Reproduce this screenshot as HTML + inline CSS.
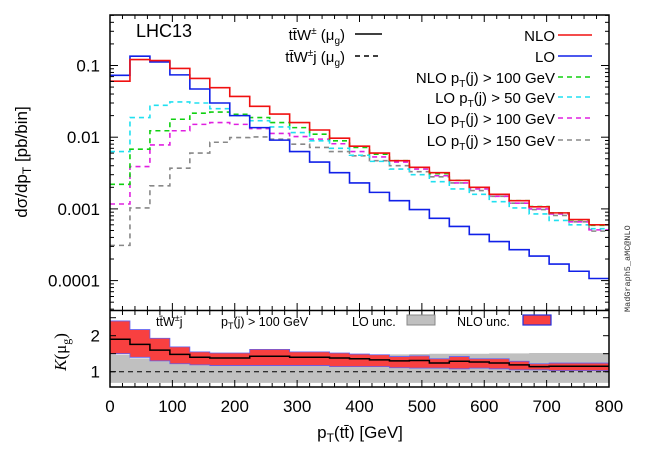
<!DOCTYPE html>
<html><head><meta charset="utf-8"><style>
body{margin:0;background:#fff;}
svg{display:block;font-family:"Liberation Sans",sans-serif;}
</style></head><body>
<svg id="c" width="664" height="465" viewBox="0 0 664 465" xmlns="http://www.w3.org/2000/svg"></svg>
<script>
const binEdges=[0,32,64,96,128,160,192,224,256,288,320,352,384,416,448,480,512,544,576,608,640,672,704,736,768,800];
const nlo=[0.0605,0.121,0.117,0.091,0.066,0.049,0.037,0.027,0.021,0.016,0.0126,0.0097,0.0075,0.006,0.0047,0.0038,0.0032,0.0025,0.002,0.0016,0.0013,0.00107,0.00088,0.00071,0.0006];
const lo=[0.073,0.135,0.112,0.074,0.047,0.030,0.020,0.0136,0.0091,0.0063,0.0045,0.0032,0.0023,0.0017,0.0013,0.00098,0.00074,0.00057,0.00044,0.00035,0.00027,0.00022,0.00017,0.000135,0.000107];
const nlo100=[0.0022,0.0068,0.0123,0.0178,0.0216,0.0224,0.0209,0.0188,0.0160,0.0136,0.011,0.0089,0.0072,0.0058,0.0047,0.0038,0.0031,0.0025,0.002,0.0016,0.0013,0.00108,0.00088,0.0007,0.00059];
const lo50=[0.0063,0.0188,0.0278,0.031,0.030,0.025,0.020,0.017,0.0139,0.0116,0.0089,0.0070,0.0056,0.0046,0.0036,0.003,0.0024,0.0019,0.0016,0.00126,0.00103,0.00085,0.00069,0.0006,0.00053];
const lo100=[0.00117,0.0039,0.0078,0.0123,0.0151,0.0160,0.0151,0.0132,0.0113,0.0102,0.0094,0.0081,0.0063,0.0053,0.0045,0.0036,0.0029,0.0023,0.0019,0.0015,0.0012,0.001,0.00085,0.00066,0.00051];
const lo150=[0.00031,0.00103,0.0021,0.0037,0.006,0.0085,0.0099,0.0101,0.0094,0.0080,0.0072,0.0063,0.0055,0.0047,0.004,0.0033,0.0028,0.0023,0.0018,0.0015,0.0012,0.00098,0.00081,0.00066,0.00049];
const kCentral=[1.9,1.76,1.6,1.48,1.4,1.38,1.38,1.43,1.43,1.4,1.4,1.38,1.36,1.33,1.3,1.31,1.24,1.29,1.27,1.24,1.19,1.14,1.15,1.15,1.15];
const kNloUp=[2.41,2.17,1.93,1.69,1.55,1.52,1.52,1.62,1.62,1.55,1.55,1.52,1.49,1.47,1.42,1.44,1.36,1.42,1.36,1.36,1.29,1.22,1.24,1.24,1.24];
const kNloDn=[1.5,1.4,1.3,1.22,1.19,1.17,1.17,1.17,1.17,1.17,1.17,1.14,1.14,1.14,1.11,1.1,1.1,1.08,1.1,1.08,1.05,1.05,1.03,1.03,1.03];
const kLoUp=[1.47,1.37,1.32,1.3,1.32,1.35,1.38,1.4,1.42,1.43,1.44,1.45,1.46,1.47,1.48,1.49,1.5,1.5,1.5,1.51,1.51,1.52,1.52,1.52,1.52];
const kLoDn=[0.69,0.69,0.69,0.69,0.69,0.69,0.69,0.69,0.69,0.69,0.69,0.69,0.69,0.69,0.69,0.69,0.69,0.69,0.69,0.69,0.69,0.69,0.69,0.69,0.69];
const xTicks=[0,100,200,300,400,500,600,700,800];
const yTicks=[0.1,0.01,0.001,0.0001];
const yTickLabels=["0.1","0.01","0.001","0.0001"];
const kTicks=[1,2];

const NS="http://www.w3.org/2000/svg";
const svg=document.getElementById('c');
const L=110,R=609,T=15,MB=310,RT=311,RB=387;
const X=v=>L+(v/800)*(R-L);
const Y=v=>65.5-(Math.log10(v)+1)*71.7;
const K=v=>371.7-(v-1)*36;
function el(tag,attrs,parent){const e=document.createElementNS(NS,tag);for(const k in attrs)e.setAttribute(k,attrs[k]);(parent||svg).appendChild(e);return e;}
function stepPath(vals,f){let d='';for(let i=0;i<vals.length;i++){const x0=X(binEdges[i]),x1=X(binEdges[i+1]),y=f(vals[i]);d+=(i?'L':'M')+x0+','+y+'L'+x1+','+y;}return d;}
function bandPath(up,dn,f){let d='';for(let i=0;i<up.length;i++){d+=(i?'L':'M')+X(binEdges[i])+','+f(up[i])+'L'+X(binEdges[i+1])+','+f(up[i]);}for(let i=dn.length-1;i>=0;i--){d+='L'+X(binEdges[i+1])+','+f(dn[i])+'L'+X(binEdges[i])+','+f(dn[i]);}return d+'Z';}

const defs=el('defs',{});
const cp=el('clipPath',{id:'mc'},defs);el('rect',{x:L,y:T,width:R-L,height:MB-T},cp);
const cp2=el('clipPath',{id:'rc'},defs);el('rect',{x:L,y:RT,width:R-L,height:RB-RT},cp2);
const g=el('g',{'clip-path':'url(#mc)'});


const series=[[lo150,'#888','5,4','lo-pt150-line'],[lo100,'#e020e0','5,4','lo-pt100-line'],[lo50,'#20e0f0','5,4','lo-pt50-line'],[nlo100,'#10d010','5,4','nlo-pt100-line'],[lo,'#1020e8','','lo-line'],[nlo,'#f01010','','nlo-line']];
series.forEach(s=>{const p=el('path',{d:stepPath(s[0],Y),fill:'none',stroke:s[1],'stroke-width':1.6,'stroke-dasharray':s[2]},g);

});

const rg=el('g',{'clip-path':'url(#rc)'});


const lb=el('path',{d:bandPath(kLoUp,kLoDn,K),fill:'#c0c0c0'},rg);


const nb=el('path',{d:bandPath(kNloUp,kNloDn,K),fill:'#f84040',stroke:'#6060f0','stroke-width':0.8},rg);


const kc=el('path',{d:stepPath(kCentral,K),fill:'none',stroke:'#000','stroke-width':1.5},rg);


const kd=el('line',{x1:L,x2:R,y1:K(1),y2:K(1),stroke:'#000','stroke-width':1,'stroke-dasharray':'5,4'},rg);



el('rect',{x:L,y:T,width:R-L,height:RB-T,fill:'none',stroke:'#000','stroke-width':1.5});
el('line',{x1:L,x2:R,y1:RT-0.5,y2:RT-0.5,stroke:'#000','stroke-width':1.5});

for(let v=0;v<=800;v+=20){const maj=v%100===0;[[MB,-1],[RT,1],[RB,-1],[T,1]].forEach(([y,s])=>{el('line',{x1:X(v),x2:X(v),y1:y,y2:y+s*(maj?7:4),stroke:'#000','stroke-width':1});});}
xTicks.forEach(v=>{const t=el('text',{x:X(v),y:412,'font-size':17,'text-anchor':'middle'});t.textContent=v;

});
for(let e=-5;e<=0;e++){for(let m=1;m<10;m++){const v=m*Math.pow(10,e);const y=Y(v);if(y<T||y>MB)continue;const len=m===1?8:4;el('line',{x1:L,x2:L+len,y1:y,y2:y,stroke:'#000'});el('line',{x1:R,x2:R-len,y1:y,y2:y,stroke:'#000'});}}
yTicks.forEach((v,i)=>{const t=el('text',{x:100,y:Y(v)+6,'font-size':17,'text-anchor':'end'});t.textContent=yTickLabels[i];

});
[0.5,1,1.5,2,2.5].forEach(v=>{const y=K(v);if(y<RT||y>RB)return;el('line',{x1:L,x2:L+6,y1:y,y2:y,stroke:'#000'});el('line',{x1:R,x2:R-6,y1:y,y2:y,stroke:'#000'});});
kTicks.forEach(v=>{const t=el('text',{x:100,y:K(v)+6,'font-size':17,'text-anchor':'end'});t.textContent=v;

});
</script>
<svg style="position:absolute;left:0;top:0" width="664" height="465" font-family="Liberation Sans, sans-serif">
<text transform="translate(27,162) rotate(-90)" text-anchor="middle" font-size="17">dσ/dp<tspan dy="4" font-size="12">T</tspan><tspan dy="-4"> [pb/bin]</tspan></text>
<text transform="translate(66,352) rotate(-90)" text-anchor="middle" font-size="17" font-family="Liberation Serif, serif"><tspan font-style="italic">K</tspan>(μ<tspan dy="4" font-size="12">g</tspan><tspan dy="-4">)</tspan></text>
<text x="360" y="438" text-anchor="middle" font-size="17">p<tspan dy="4" font-size="12">T</tspan><tspan dy="-4">(tt̄) [GeV]</tspan></text>
<text x="136" y="37" font-size="18">LHC13</text>
<text transform="translate(630,312) rotate(-90)" font-size="8.5" font-family="Liberation Mono, monospace" fill="#333">MadGraph5_aMC@NLO</text>
<g font-size="15" text-anchor="end">
<text x="345" y="40">tt̄W<tspan dy="-6" font-size="10">±</tspan><tspan dy="6"> (μ</tspan><tspan dy="4" font-size="10">g</tspan><tspan dy="-4">)</tspan></text>
<line x1="355" x2="382" y1="34" y2="34" stroke="#000" stroke-width="1.5"/>
<text x="345" y="62">tt̄W<tspan dy="-6" font-size="10">±</tspan><tspan dy="6">j (μ</tspan><tspan dy="4" font-size="10">g</tspan><tspan dy="-4">)</tspan></text>
<line x1="355" x2="382" y1="56" y2="56" stroke="#000" stroke-width="1.5" stroke-dasharray="5,4"/>
<text x="555" y="41">NLO</text>
<line x1="558" x2="592" y1="35" y2="35" stroke="#f01010" stroke-width="1.6"/>
<text x="555" y="62">LO</text>
<line x1="558" x2="592" y1="56" y2="56" stroke="#1020e8" stroke-width="1.6"/>
<text x="555" y="83">NLO p<tspan dy="4" font-size="10">T</tspan><tspan dy="-4">(j) &gt; 100 GeV</tspan></text>
<line x1="558" x2="592" y1="77" y2="77" stroke="#10d010" stroke-width="1.6" stroke-dasharray="5,4"/>
<text x="555" y="103">LO p<tspan dy="4" font-size="10">T</tspan><tspan dy="-4">(j) &gt; 50 GeV</tspan></text>
<line x1="558" x2="592" y1="97" y2="97" stroke="#20e0f0" stroke-width="1.6" stroke-dasharray="5,4"/>
<text x="555" y="124">LO p<tspan dy="4" font-size="10">T</tspan><tspan dy="-4">(j) &gt; 100 GeV</tspan></text>
<line x1="558" x2="592" y1="118" y2="118" stroke="#e020e0" stroke-width="1.6" stroke-dasharray="5,4"/>
<text x="555" y="146">LO p<tspan dy="4" font-size="10">T</tspan><tspan dy="-4">(j) &gt; 150 GeV</tspan></text>
<line x1="558" x2="592" y1="140" y2="140" stroke="#888" stroke-width="1.6" stroke-dasharray="5,4"/>
</g>
<g font-size="12.5">
<text x="156" y="326">tt̄W<tspan dy="-5" font-size="9">±</tspan><tspan dy="5">j</tspan></text>
<text x="221" y="326">p<tspan dy="3" font-size="9">T</tspan><tspan dy="-3">(j) &gt; 100 GeV</tspan></text>
<text x="352" y="326">LO unc.</text>
<rect x="407" y="315" width="28" height="10" fill="#c0c0c0" stroke="#888"/>
<text x="457" y="326">NLO unc.</text>
<rect x="523" y="315" width="28" height="10" fill="#f84040" stroke="#2030e0" stroke-width="1.2"/>
</g>
</svg>
</body></html>
